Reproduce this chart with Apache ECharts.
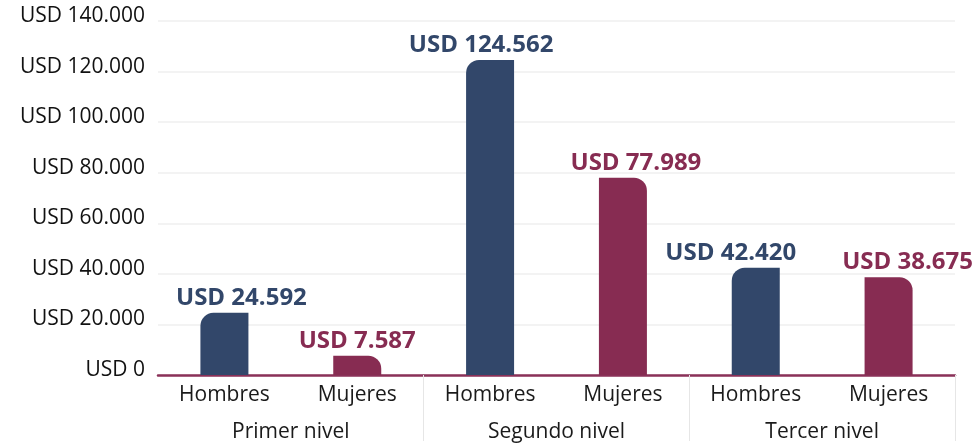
<!DOCTYPE html>
<html>
<head>
<meta charset="utf-8">
<script src="https://cdn.jsdelivr.net/npm/echarts@6/dist/echarts.min.js"></script>
<style>
  html, body { margin: 0; padding: 0; background: #fff; }
  #chart { width: 980px; height: 443px; }
</style>
</head>
<body>
<div id="chart"></div>
<script>
// data
const categories = ['Hombres', 'Mujeres', 'Hombres', 'Mujeres', 'Hombres', 'Mujeres'];
const groups = ['Primer nivel', 'Segundo nivel', 'Tercer nivel'];
const salaries = [24592, 7587, 124562, 77989, 42420, 38675];

const NAVY = '#32476a';
const MAROON = '#872c52';
const FONT = '"Open Sans", sans-serif';

// label nudges so they sit where the original ones do
const labelShift = [17, 0, -9, 13, -25, 19];

const fmt = v => 'USD ' + String(v).replace(/\B(?=(\d{3})+(?!\d))/g, '.');

const dom = document.getElementById('chart');
const myChart = echarts.init(dom, null, { renderer: 'canvas' });

const option = {
  animation: false,
  grid: { left: 158, right: 25, top: 21, bottom: 66 },
  xAxis: [
    {
      type: 'category',
      data: categories,
      axisLine: { lineStyle: { color: '#8a3158', width: 2.5 } },
      axisTick: {
        show: true,
        length: 66,
        interval: i => i === 2 || i === 4,
        lineStyle: { color: '#e6e6e6', width: 1 }
      },
      axisLabel: { color: '#1a1a1a', fontFamily: FONT, fontSize: 21, margin: 10 }
    },
    {
      type: 'category',
      data: groups,
      position: 'bottom',
      offset: 36,
      axisLine: { show: false },
      axisTick: { show: false },
      axisLabel: { color: '#1a1a1a', fontFamily: FONT, fontSize: 21, margin: 11 }
    }
  ],
  yAxis: {
    type: 'value',
    min: 0,
    max: 140000,
    interval: 20000,
    axisLine: { show: false },
    axisTick: { show: false },
    splitLine: { lineStyle: { color: '#efefef', width: 1.5 } },
    axisLabel: {
      color: '#111',
      fontFamily: FONT,
      fontSize: 21,
      margin: 13,
      verticalAlign: 'bottom',
      lineHeight: 10,
      formatter: fmt
    }
  },
  series: [
    {
      type: 'bar',
      barWidth: 48,
      data: salaries.map((v, i) => {
        const c = i % 2 === 0 ? NAVY : MAROON;
        return {
          value: v,
          itemStyle: {
            color: c,
            borderRadius: i % 2 === 0 ? [13, 0, 0, 0] : [0, 13, 0, 0]
          },
          label: { color: c, offset: [labelShift[i], 0] }
        };
      }),
      label: {
        show: true,
        position: 'top',
        distance: 3,
        fontFamily: FONT,
        fontWeight: 'bold',
        fontSize: 24,
        formatter: p => fmt(p.value)
      }
    }
  ]
};

myChart.setOption(option);
window.addEventListener('resize', myChart.resize);
</script>
</body>
</html>
